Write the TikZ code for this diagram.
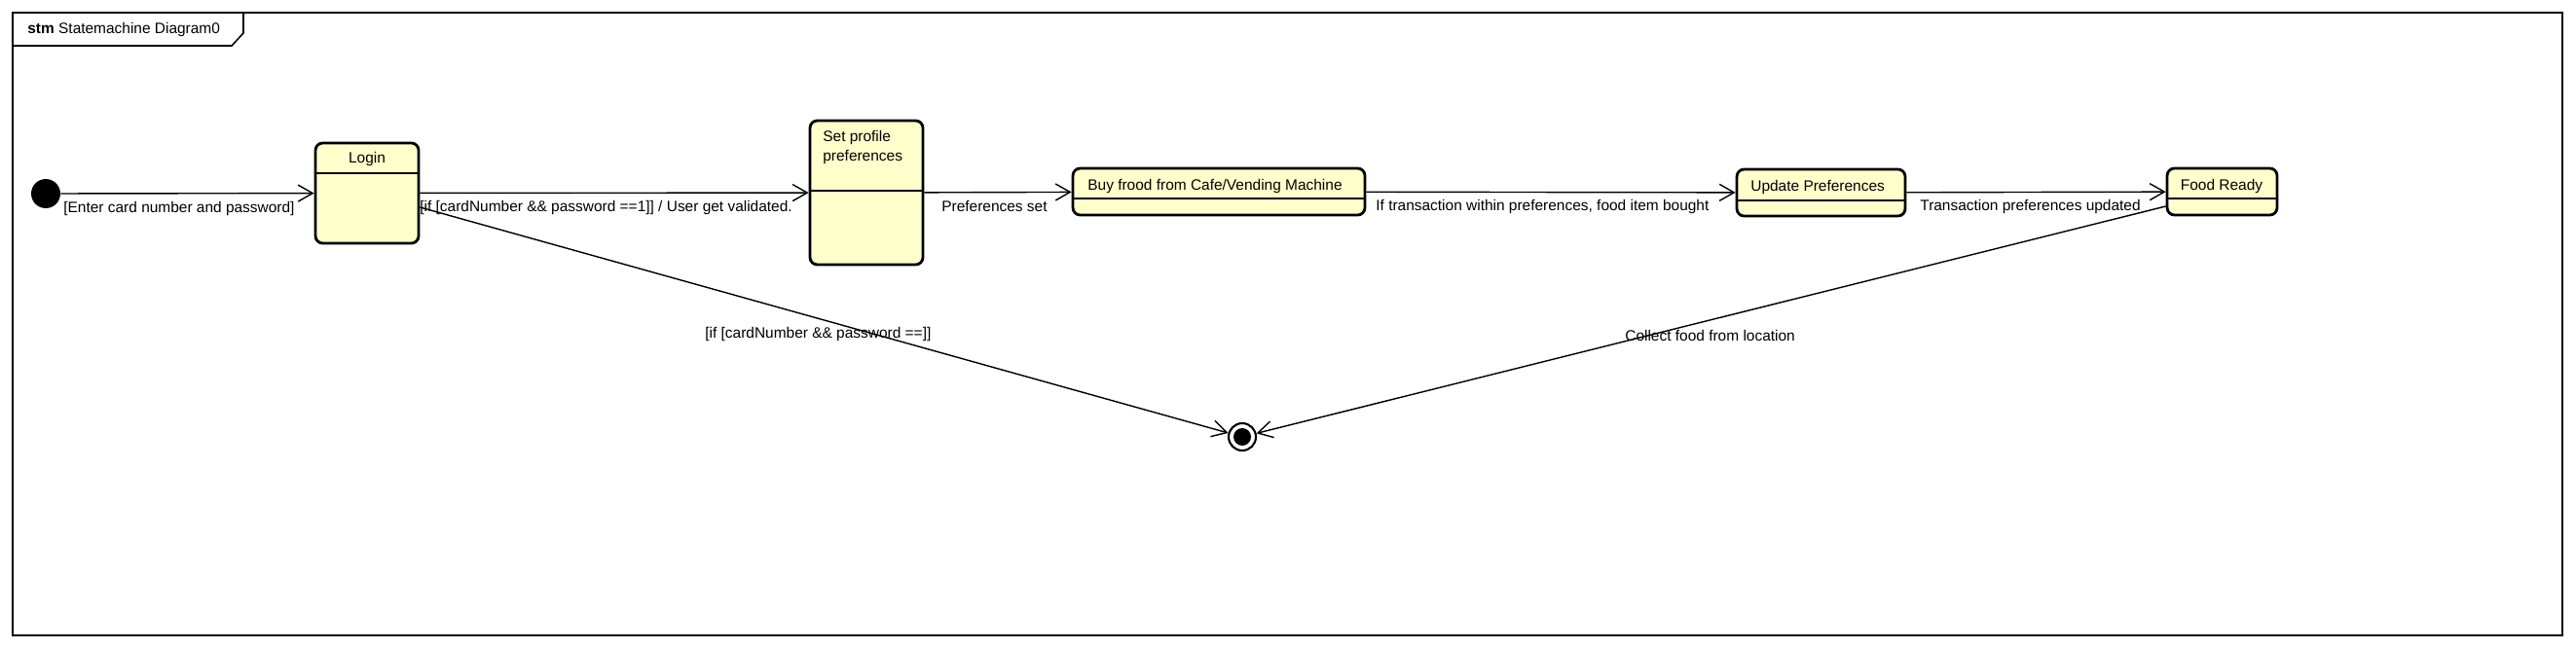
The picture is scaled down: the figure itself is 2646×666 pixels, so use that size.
\documentclass[tikz,border=0pt]{standalone}
\usepackage{fontspec}
\setmainfont{Liberation Sans}
\usepackage{tikz}
\usetikzlibrary{arrows.meta}
\usetikzlibrary{positioning}

\definecolor{stateyellow}{RGB}{255,255,204}

\tikzset{
  stbox/.style={draw, line width=1.6pt, rounded corners=0.15cm, fill=stateyellow, inner sep=0pt},
  divline/.style={line width=0.8pt},
  trans/.style={line width=0.8pt, -{Straight Barb[length=0.3cm, width=0.34cm]}},
  lbl/.style={inner sep=0pt, anchor=west},
  initstate/.style={circle, fill=black, minimum size=0.6cm, inner sep=0pt},
  endstate/.style={circle, draw, line width=1.2pt, fill=white, minimum size=0.56cm, inner sep=0pt}
}

\begin{document}
\begin{tikzpicture}[x=0.02cm, y=-0.02cm, font=\fontsize{8.8pt}{11.4pt}\selectfont]
      \useasboundingbox (0,0) rectangle (2646,666);

      \coordinate (P0) at (47, 199);
      \coordinate (P1) at (377, 198.5);
      \coordinate (P2) at (890, 198);
      \coordinate (P3) at (1252, 197);
      \coordinate (P4) at (1870.5, 198);
      \coordinate (P5) at (2282.5, 197);
      \coordinate (P6) at (1276, 449);

      \draw [line width=1.1pt] (13, 13) rectangle (2632, 653);
      \draw [line width=0.9pt] (13, 47) -- (238, 47) -- (250, 34) -- (250, 13);
      \node [lbl] (title) at (28, 31) {\textbf{stm} Statemachine Diagram0};

      \node [initstate] (init) at (P0) {};
      \node [stbox, minimum width=2.12cm, minimum height=2.06cm] (login) at (P1) {};
      \node [stbox, minimum width=2.32cm, minimum height=2.96cm] (setprof) at (P2) {};
      \node [stbox, minimum width=6.0cm, minimum height=0.96cm] (buy) at (P3) {};
      \node [stbox, minimum width=3.46cm, minimum height=0.96cm] (update) at (P4) {};
      \node [stbox, minimum width=2.26cm, minimum height=0.96cm] (food) at (P5) {};
      \node [endstate] (final) at (P6) {};
      \fill (final.center) circle (0.18cm);

      \newcommand{\divider}[2]{\draw [divline] (#1.west |- 0, #2) -- (#1.east |- 0, #2);}
      \divider{login}{178}
      \divider{setprof}{196}
      \divider{buy}{204}
      \divider{update}{206}
      \divider{food}{204}

      \node (logintxt) at (377, 163) {Login};
      \node [inner sep=0pt, anchor=north west, align=left] (setproftxt) at (845, 134) {Set profile\\preferences};
      \node [lbl] (buytxt) at (1117, 192) {Buy frood from Cafe/Vending Machine};
      \node [lbl] (updatetxt) at (1798, 193) {Update Preferences};
      \node (foodtxt) at (2282, 192) {Food Ready};

      \draw [trans] (init) -- (login);
      \draw [trans] (login) -- (setprof);
      \draw [trans] (setprof) -- (buy);
      \draw [trans] (buy) -- (update);
      \draw [trans] (update) -- (food);
      \draw [trans] ([yshift=-0.29cm]login.east) -- (final);
      \draw [trans] ([yshift=-0.3cm]food.west) -- (final);

      \node [lbl] (initlbl) at (65, 214) {[Enter card number and password]};
      \node [lbl] (loginlbl) at (431, 213) {[if [cardNumber \&\& password ==1]] / User get validated.};
      \node [lbl] (preflbl) at (967, 212) {Preferences set};
      \node [lbl] (buylbl) at (1413, 212) {If transaction within preferences, food item bought};
      \node [lbl] (updatelbl) at (1972, 212) {Transaction preferences updated};
      \node [lbl] (faillbl) at (724, 343) {[if [cardNumber \&\& password ==]]};
      \node [lbl] (collectlbl) at (1669, 345) {Collect food from location};
    \end{tikzpicture}
\end{document}
